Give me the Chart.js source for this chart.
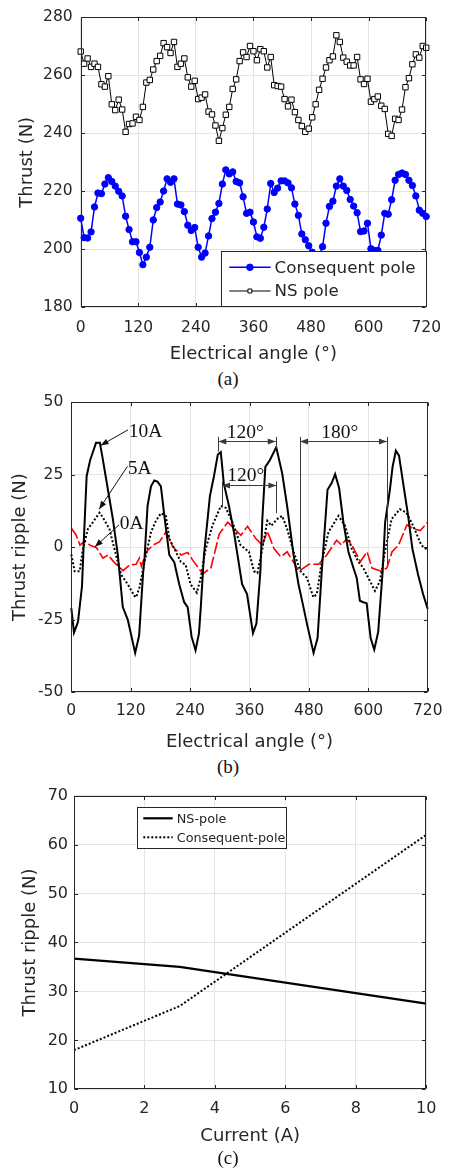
<!DOCTYPE html>
<html><head><meta charset="utf-8">
<script src="https://cdn.jsdelivr.net/npm/chart.js@4.4.1/dist/chart.umd.min.js"></script>
<style>
html,body{margin:0;padding:0;background:#fff;}
body{width:452px;height:1169px;position:relative;overflow:hidden;}
canvas{position:absolute;left:0;}
.cap{position:absolute;left:0;width:456px;text-align:center;font-family:'Liberation Serif','Times New Roman',serif;font-size:19px;color:#111;line-height:20px;}
</style></head><body>
<canvas id="ca" width="452" height="365" style="top:0"></canvas>
<div class="cap" style="top:369px">(a)</div>
<canvas id="cb" width="452" height="370" style="top:385px"></canvas>
<div class="cap" style="top:757px">(b)</div>
<canvas id="cc" width="452" height="370" style="top:780px"></canvas>
<div class="cap" style="top:1148px">(c)</div>
<script>
// ---------- data: panel (a) ----------
const angleA = [0,7.2,14.4,21.6,28.8,36,43.2,50.4,57.6,64.8,72,79.2,86.4,93.6,100.8,108,115.2,122.4,129.6,136.8,144,151.2,158.4,165.6,172.8,180,187.2,194.4,201.6,208.8,216,223.2,230.4,237.6,244.8,252,259.2,266.4,273.6,280.8,288,295.2,302.4,309.6,316.8,324,331.2,338.4,345.6,352.8,360,367.2,374.4,381.6,388.8,396,403.2,410.4,417.6,424.8,432,439.2,446.4,453.6,460.8,468,475.2,482.4,489.6,496.8,504,511.2,518.4,525.6,532.8,540,547.2,554.4,561.6,568.8,576,583.2,590.4,597.6,604.8,612,619.2,626.4,633.6,640.8,648,655.2,662.4,669.6,676.8,684,691.2,698.4,705.6,712.8,720];
const consequentPole = [210.7,204.0,203.9,206.0,214.6,219.4,219.2,222.5,224.7,223.4,221.8,220.0,218.4,211.4,206.8,202.6,202.6,198.9,194.7,197.3,200.7,210.1,214.4,216.3,220.1,224.3,223.1,224.3,215.6,215.3,213.0,208.3,206.5,207.5,200.7,197.3,198.7,204.6,210.6,212.8,215.8,222.5,227.4,226.0,226.7,223.4,222.9,218.1,212.4,212.8,209.4,204.3,203.8,207.6,213.9,222.7,219.6,221.1,223.6,223.6,222.9,221.2,215.6,211.7,205.3,203.3,201.2,199.0,197.5,197.8,200.9,209.0,214.8,216.6,221.8,224.3,221.8,220.3,217.2,214.9,212.6,206.1,206.3,209.0,200.2,199.6,199.6,204.9,212.4,212.1,217.1,223.8,225.8,226.3,225.8,223.8,222.0,218.4,213.5,212.4,211.3];
const nsPole = [268.2,264.0,265.8,262.9,264.0,262.9,256.9,256.1,259.7,250.0,248.0,251.6,248.2,240.5,243.2,243.4,245.7,244.6,249.1,257.5,258.4,262.0,264.9,266.7,271.1,269.7,267.7,271.5,262.9,264.0,265.8,259.3,256.1,258.1,251.8,252.3,253.4,247.5,246.5,242.7,237.4,241.8,246.4,249.1,255.3,258.6,264.9,267.9,266.3,270.1,268.3,265.2,269.0,268.3,262.7,266.3,256.6,256.3,256.1,251.8,249.3,251.6,247.3,244.6,242.5,240.5,241.6,245.5,250.0,255.0,258.8,262.7,265.2,266.5,273.8,271.5,266.1,264.7,263.4,263.4,266.3,258.6,257.0,258.8,250.9,251.8,252.7,249.5,248.4,239.8,239.1,245.0,244.6,248.2,255.9,259.0,263.8,267.2,266.1,270.1,269.5];
const xTicksA = [0,120,240,360,480,600,720];
const yTicksA = [180,200,220,240,260,280];

// ---------- data: panel (b) ----------
const angle10 = [0,5.4,13.5,21.6,26,31,38,44,50,57.7,63,74,84,94,104,114,129,137,145,148,154,161,167.7,174,181,188,198,208,218,228,235,243,251,258,261.6,268,280,288,296,302,308,318.5,328.5,345,355,367,374,382,386,392,401,414,426,436,449,459,469,476,489.4,497.5,506,517.6,526,533,541,549.7,559.8,570,576.6,583,590,596.7,604.7,612,620,629,634,643.6,649,655.7,662,670.4,680.5,689,700.6,710.6,720];
const ripple10 = [-21,-29.5,-25.8,-13.5,5,24.5,30,33,36,36,31,19.8,9.7,-2.7,-20.7,-25,-36.5,-30.5,-9,-3.8,14.2,21,23,22.6,21,10.8,-2.7,-5.2,-12.8,-19,-20.7,-30.9,-35.6,-29.7,-20.7,-2.7,17.6,24.3,32,32.8,22.1,14.2,5.2,-12.8,-16.2,-29.7,-26.4,-8.3,10,27.7,30,34.5,25.5,14.2,-2.7,-12.8,-20.7,-26.4,-36.5,-31.4,-8.3,19.8,22.1,25.2,20.4,8.6,-1.6,-7.2,-10.6,-18.5,-19,-19.4,-31.4,-35.4,-29.2,-8.3,8.6,19.8,27.7,33.3,31.6,22.1,10.8,-0.5,-9.5,-16.2,-21.3];
const angle5 = [0,6.8,17,23.5,33.6,43.6,57,64,77,87,100.6,114,127.4,131,137.5,151,161,171,181,191,198,208,221,231,241,253.5,261.6,271.6,285,302,312,325.5,342,359,369,376,386,396,404,416,426,436,449,463,476,489,496,506,519.6,539.7,553,566.5,580,590,600,613.4,623.5,633.5,647,663.7,677,690.5,707,720];
const ripple5 = [-2.5,-8.3,-8.3,-0.5,6.3,8.6,11.9,10.2,6.3,-0.5,-9.5,-12.8,-16.8,-17.3,-14,-2.7,5.2,9.1,11.7,10.8,2.9,-0.5,-5,-6.1,-12.8,-15.7,-10.6,-0.5,7.4,14.2,13.6,8.6,0.7,-1.6,-8.3,-8.9,-0.5,9.1,7.4,9.7,10.8,6.3,-1.6,-8.3,-10.6,-17.3,-16.2,-5,5.2,10.8,7.4,-0.5,-5,-7.2,-10.6,-15.1,-11.7,-1.6,9.7,13.1,11.9,7.4,0.7,-1];
const angle0 = [0,9.4,17.5,27.5,37.5,51,64,74,88,104.6,118,131,137.5,141.5,151.5,165,178,191.8,205,222,235,245,265.5,282,299,316,326,342.6,356,373,386,396,409.5,423,436,460,480,500,516,536,546,556,567,584,597.6,607.5,626,637.6,648,661,678,691.5,705,720];
const ripple0 = [6.5,4.3,0.7,2.1,0.7,-0.2,-3.8,-2.7,-5.5,-8.1,-6.1,-5.9,-3.8,-6.6,-1.6,0.7,1.8,5.4,0.1,-2.7,-1.8,-4.4,-9.2,-7.2,4.6,8.6,6.9,4.1,7.2,2.9,0.7,5.5,-0.5,-3.3,-1.6,-8.3,-5.9,-5.9,-2.7,2.4,0.7,2.9,0.7,-5,-1.6,-7.2,-8.3,-7.2,-1.6,0.7,7.7,6.3,5.7,8.6];
const xTicksB = [0,120,240,360,480,600,720];
const yTicksB = [-50,-25,0,25,50];

// ---------- data: panel (c) ----------
const currentC = [0,3,10];
const nsRipple = [36.7,35.0,27.5];
const cpRipple = [18.0,27.0,62.0];
const xTicksC = [0,2,4,6,8,10];
const yTicksC = [10,20,30,40,50,60,70];

// ---------- helpers ----------
const SANS = "'DejaVu Sans', sans-serif";
const SERIF = "'Liberation Serif', 'Times New Roman', serif";
const TXT = '#262626';
const GRID = '#e4e4e4';
const pts = (xs, ys) => xs.map((x, i) => ({x, y: ys[i]}));
const setTicks = arr => (s => { s.ticks = arr.map(v => ({value: v})); });

const framePlugin = {
  id: 'frame',
  afterDatasetsDraw(chart) {
    const {ctx, chartArea: a, scales} = chart;
    const L = Math.round(a.left) + 0.5, R = Math.round(a.right) - 0.5;
    const T = Math.round(a.top) + 0.5, B = Math.round(a.bottom) - 0.5;
    const TL = 3.5;
    ctx.save();
    ctx.setLineDash([]);
    ctx.strokeStyle = TXT; ctx.lineWidth = 1;
    ctx.strokeRect(L, T, R - L, B - T);
    ctx.beginPath();
    scales.x.ticks.forEach(t => {
      const p = Math.round(scales.x.getPixelForValue(t.value)) + 0.5;
      ctx.moveTo(p, B); ctx.lineTo(p, B - TL);
      ctx.moveTo(p, T); ctx.lineTo(p, T + TL);
    });
    scales.y.ticks.forEach(t => {
      const p = Math.round(scales.y.getPixelForValue(t.value)) + 0.5;
      ctx.moveTo(L, p); ctx.lineTo(L + TL, p);
      ctx.moveTo(R, p); ctx.lineTo(R - TL, p);
    });
    ctx.stroke();
    ctx.restore();
  }
};

function boxLegend(cfg) {
  return {
    id: 'boxLegend',
    afterDraw(chart) {
      const {ctx, chartArea: a} = chart;
      const bx = cfg.right ? a.right - cfg.w : a.left + cfg.dx;
      const by = cfg.bottom ? a.bottom - cfg.h - cfg.dy : a.top + cfg.dy;
      ctx.save();
      ctx.fillStyle = '#fff';
      ctx.fillRect(bx, by, cfg.w, cfg.h);
      ctx.strokeStyle = TXT; ctx.lineWidth = 1; ctx.setLineDash([]);
      ctx.strokeRect(Math.round(bx) + 0.5, Math.round(by) + 0.5, Math.round(cfg.w) - 1, Math.round(cfg.h));
      chart.data.datasets.forEach((ds, i) => {
        const y = by + cfg.rows[i];
        ctx.beginPath();
        ctx.setLineDash(ds.borderDash || []);
        ctx.strokeStyle = ds.borderColor; ctx.lineWidth = ds.borderWidth;
        ctx.moveTo(bx + cfg.x0, y); ctx.lineTo(bx + cfg.x1, y); ctx.stroke();
        ctx.setLineDash([]);
        if (ds.pointRadius > 0) {
          ctx.fillStyle = ds.pointBackgroundColor; ctx.strokeStyle = ds.pointBorderColor;
          ctx.lineWidth = ds.pointBorderWidth;
          Chart.helpers.drawPoint(ctx, {pointStyle: ds.pointStyle, radius: cfg.pr[i], borderWidth: ds.pointBorderWidth, rotation: 0}, bx + (cfg.x0 + cfg.x1) / 2, y);
        }
        ctx.fillStyle = TXT; ctx.font = cfg.font; ctx.textBaseline = 'middle'; ctx.textAlign = 'left';
        ctx.fillText(ds.label, bx + cfg.tx, y + 1);
      });
      ctx.restore();
    }
  };
}

// annotation positions for panel (b), in data units (deg, N)
const labelsB = [
  {t: '10A', x: 116, y: 38.1, al: 'left'},
  {t: '5A', x: 114.1, y: 25.2, al: 'left'},
  {t: '0A', x: 98, y: 6.2, al: 'left'},
  {t: '120°', x: 351.4, y: 37.6, al: 'center'},
  {t: '120°', x: 352.6, y: 22.9, al: 'center'},
  {t: '180°', x: 542.4, y: 37.6, al: 'center'}
];
const pointerArrowsB = [[114.6, 40.5, 59.1, 35.1], [113.4, 27.9, 56.3, 13.1], [96.5, 7.7, 47.7, 0.1]];
const spanArrowsB = [[297, 36.6, 413, 36.6], [304.5, 21.4, 414.3, 21.4], [462, 36.6, 637.6, 36.6]];
const guideLinesB = [[297, 38.1, 297, 33], [413, 38.1, 413, 34], [304.5, 22.7, 304.5, 14.3], [414.3, 22.7, 414.3, 11.7], [462, 38.1, 462, -8.4], [637.6, 38.1, 637.6, -6]];

function head(ctx, x1, y1, x2, y2) {
  const ang = Math.atan2(y2 - y1, x2 - x1), len = 8, hw = 3;
  ctx.beginPath();
  ctx.moveTo(x2, y2);
  ctx.lineTo(x2 - len * Math.cos(ang) + hw * Math.sin(ang), y2 - len * Math.sin(ang) - hw * Math.cos(ang));
  ctx.lineTo(x2 - len * Math.cos(ang) - hw * Math.sin(ang), y2 - len * Math.sin(ang) + hw * Math.cos(ang));
  ctx.closePath(); ctx.fill();
}

const annotB = {
  id: 'annotB',
  afterDatasetsDraw(chart) {
    const {ctx, scales: {x, y}} = chart;
    const X = v => x.getPixelForValue(v), Y = v => y.getPixelForValue(v);
    ctx.save();
    ctx.setLineDash([]);
    ctx.lineWidth = 1;
    ctx.strokeStyle = '#3a3a3a'; ctx.fillStyle = '#3a3a3a';
    guideLinesB.forEach(l => {
      ctx.beginPath(); ctx.moveTo(Math.round(X(l[0])) + 0.5, Y(l[1])); ctx.lineTo(Math.round(X(l[2])) + 0.5, Y(l[3])); ctx.stroke();
    });
    spanArrowsB.forEach(l => {
      const x1 = X(l[0]), y1 = Math.round(Y(l[1])) + 0.5, x2 = X(l[2]);
      ctx.beginPath(); ctx.moveTo(x1, y1); ctx.lineTo(x2, y1); ctx.stroke();
      head(ctx, x2, y1, x1, y1); head(ctx, x1, y1, x2, y1);
    });
    ctx.strokeStyle = '#111'; ctx.fillStyle = '#111';
    pointerArrowsB.forEach(l => {
      const x1 = X(l[0]), y1 = Y(l[1]), x2 = X(l[2]), y2 = Y(l[3]);
      ctx.beginPath(); ctx.moveTo(x1, y1); ctx.lineTo(x2, y2); ctx.stroke();
      head(ctx, x1, y1, x2, y2);
    });
    ctx.fillStyle = '#111';
    ctx.font = '19.5px ' + SERIF; ctx.textBaseline = 'alphabetic';
    labelsB.forEach(o => { ctx.textAlign = o.al; ctx.fillText(o.t, X(o.x), Y(o.y)); });
    ctx.restore();
  }
};

function axes(o) {
  return {
    x: {
      type: 'linear', min: o.xmin, max: o.xmax,
      afterBuildTicks: setTicks(o.xticks),
      ticks: {font: {family: SANS, size: o.tick}, color: TXT, padding: o.xpad, maxRotation: 0, autoSkip: false},
      grid: {color: GRID, drawTicks: false, lineWidth: 1},
      border: {display: false},
      title: {display: true, text: o.xtitle, font: {family: SANS, size: o.title}, color: TXT, padding: {top: 0, bottom: o.xtpad}},
      afterFit: s => { s.height = o.xh; }
    },
    y: {
      type: 'linear', min: o.ymin, max: o.ymax,
      afterBuildTicks: setTicks(o.yticks),
      ticks: {font: {family: SANS, size: o.tick}, color: TXT, padding: o.ypad, autoSkip: false},
      grid: {color: GRID, drawTicks: false, lineWidth: 1},
      border: {display: false},
      title: {display: true, text: o.ytitle, font: {family: SANS, size: o.title}, color: TXT, padding: {top: o.ytpad, bottom: 0}},
      afterFit: s => { s.width = o.yw; }
    }
  };
}

const common = {responsive: false, animation: false, events: [], plugins: {legend: {display: false}, tooltip: {enabled: false}}};

// ---------- chart (a) ----------
new Chart(document.getElementById('ca'), {
  type: 'line',
  data: {datasets: [
    {label: 'Consequent pole', data: pts(angleA, consequentPole), borderColor: '#0000ff', borderWidth: 1.5,
     pointStyle: 'circle', pointRadius: 3.2, pointBackgroundColor: '#0000ff', pointBorderColor: '#0000ff', pointBorderWidth: 1, clip: false, tension: 0},
    {label: 'NS pole', data: pts(angleA, nsPole), borderColor: '#000000', borderWidth: 1,
     pointStyle: 'rect', pointRadius: 3.8, pointBackgroundColor: '#ffffff', pointBorderColor: '#000000', pointBorderWidth: 1, clip: false, tension: 0}
  ]},
  options: Object.assign({}, common, {
    layout: {padding: {top: 12.3, right: 19.7, left: 0, bottom: 0}},
    scales: axes({xmin: 0, xmax: 720, xticks: xTicksA, ymin: 180, ymax: 280, yticks: yTicksA, tick: 15.5, title: 18,
      xpad: 11, ypad: 8, xtitle: 'Electrical angle (°)', ytitle: 'Thrust (N)', xtpad: 0, ytpad: 16.5, xh: 57.7, yw: 80.7})
  }),
  plugins: [framePlugin, boxLegend({right: true, bottom: true, w: 205.6, h: 55, dy: 1.3, rows: [16.3, 40], x0: 8.6, x1: 50, tx: 54, pr: [3.3, 2.8], font: '16.7px ' + SANS})]
});

// ---------- chart (b) ----------
new Chart(document.getElementById('cb'), {
  type: 'line',
  data: {datasets: [
    {label: '10A', data: pts(angle10, ripple10), borderColor: '#000000', borderWidth: 2, pointRadius: 0, tension: 0, clip: false},
    {label: '5A', data: pts(angle5, ripple5), borderColor: '#000000', borderWidth: 2, borderDash: [2, 2], pointRadius: 0, tension: 0, clip: false},
    {label: '0A', data: pts(angle0, ripple0), borderColor: '#ff0000', borderWidth: 1.6, borderDash: [12, 3], pointRadius: 0, tension: 0, clip: false}
  ]},
  options: Object.assign({}, common, {
    layout: {padding: {top: 12.3, right: 22.7, left: 0, bottom: 0}},
    scales: axes({xmin: 0, xmax: 720, xticks: xTicksB, ymin: -50, ymax: 50, yticks: yTicksB, tick: 15.5, title: 18,
      xpad: 9.5, ypad: 8, xtitle: 'Electrical angle (°)', ytitle: 'Thrust ripple (N)', xtpad: 2.2, ytpad: 10, xh: 63, yw: 71.3})
  }),
  plugins: [annotB, framePlugin]
});

// ---------- chart (c) ----------
new Chart(document.getElementById('cc'), {
  type: 'line',
  data: {datasets: [
    {label: 'NS-pole', data: pts(currentC, nsRipple), borderColor: '#000000', borderWidth: 2.2, pointRadius: 0, tension: 0},
    {label: 'Consequent-pole', data: pts(currentC, cpRipple), borderColor: '#000000', borderWidth: 2, borderDash: [2, 2], pointRadius: 0, tension: 0}
  ]},
  options: Object.assign({}, common, {
    layout: {padding: {top: 12.3, right: 25.7, left: 0, bottom: 0}},
    scales: axes({xmin: 0, xmax: 10, xticks: xTicksC, ymin: 10, ymax: 70, yticks: yTicksC, tick: 16, title: 18,
      xpad: 9.7, ypad: 6, xtitle: 'Current (A)', ytitle: 'Thrust ripple (N)', xtpad: 2.7, ytpad: 20, xh: 60.7, yw: 74})
  }),
  plugins: [framePlugin, boxLegend({right: false, bottom: false, dx: 62.7, dy: 11, w: 150.3, h: 41, rows: [11.7, 30.7], x0: 6.6, x1: 36, tx: 40, pr: [0, 0], font: '12.8px ' + SANS})]
});
</script>
</body></html>
